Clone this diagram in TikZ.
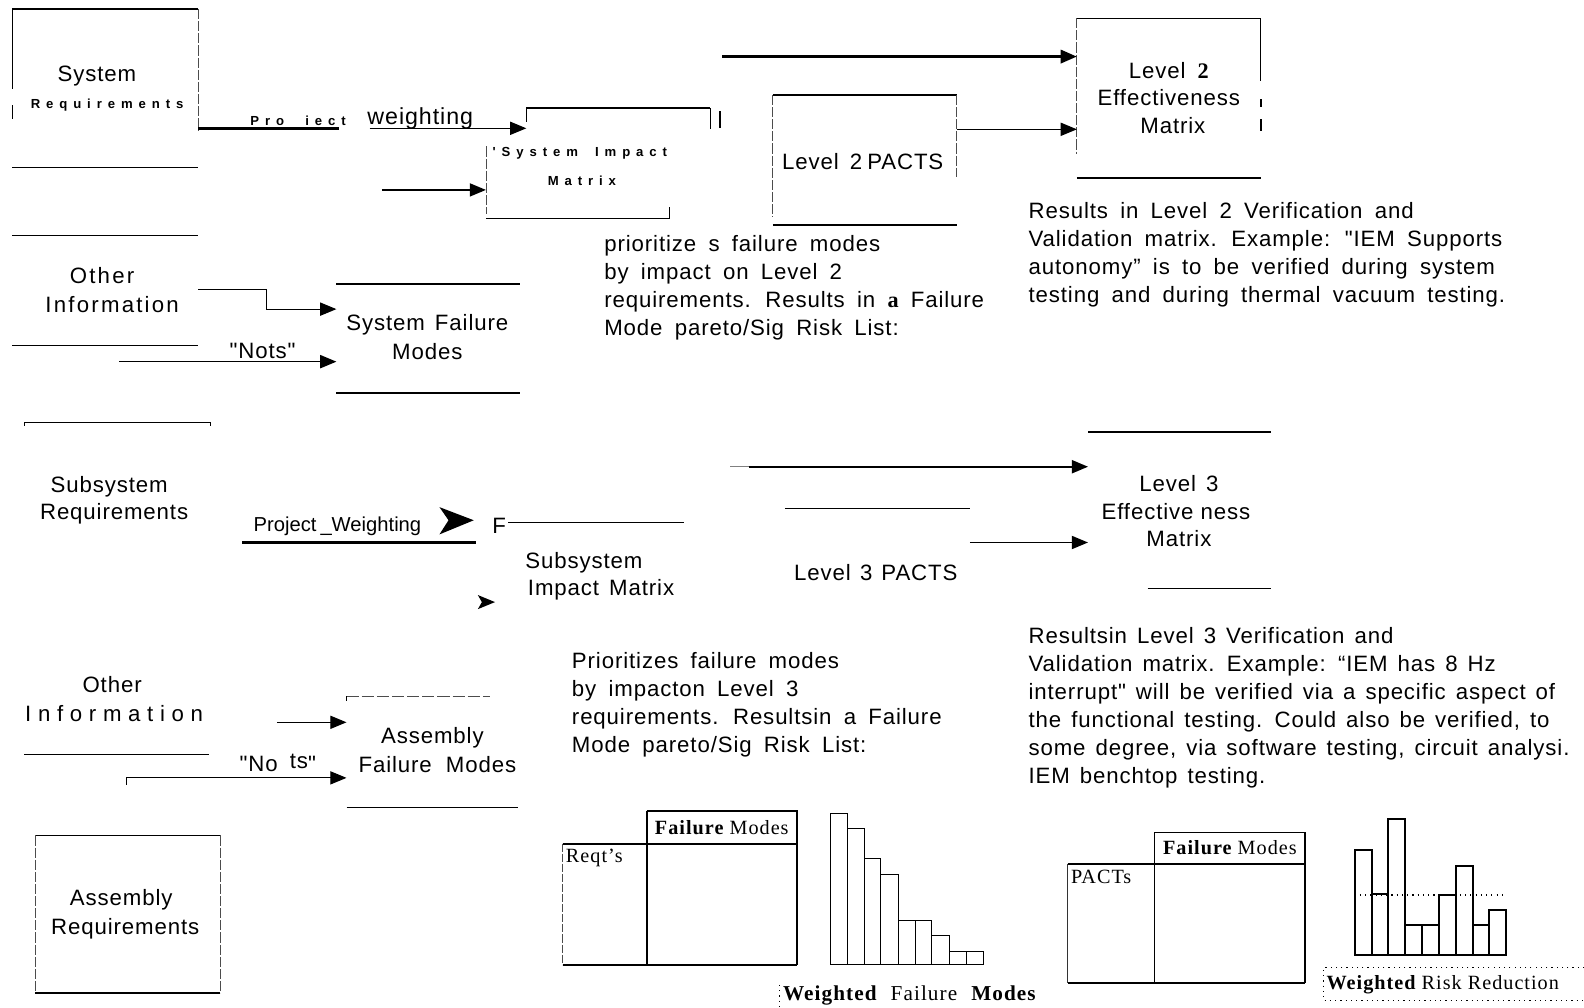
\documentclass[tikz,border=0pt]{standalone}
\usepackage{fontspec}
\setmainfont{Liberation Sans}[LetterSpace=4, Ligatures=TeXOff]
\newfontfamily\serifrm{Liberation Serif}[LetterSpace=5, Ligatures=TeXOff]
\newfontfamily\plainsf{Liberation Sans}[Ligatures=TeXOff]
\newfontfamily\spb{Liberation Sans}[LetterSpace=45, Ligatures=TeXOff]
\newfontfamily\spc{Liberation Sans}[LetterSpace=10, Ligatures=TeXOff]
\newfontfamily\spd{Liberation Sans}[LetterSpace=30, Ligatures=TeXOff]
\usetikzlibrary{arrows.meta}
\newcommand\lbf{\fontsize{22}{27.6}\selectfont\spaceskip=0.55em\relax}
\newcommand\lbfn{\fontsize{22}{27.6}\selectfont\spaceskip=0.45em\relax}
\newcommand\smb{\spb\bfseries\fontsize{13}{15}\selectfont}
\newcommand\tsf{\serifrm\fontsize{20}{24}\selectfont}
\newcommand\sq{\symbol{34}}
\tikzset{
  lbl/.style={inner sep=0pt, font=\lbf, align=center},
  para/.style={inner sep=0pt, font=\lbf, align=left, anchor=north west},
  box/.style={draw=none, inner sep=0pt, outer sep=0pt},
  side/.style={line width=0.8pt, black!70, dash pattern=on 10pt off 2pt},
  ln/.style={line width=1.2pt},
  lnb/.style={line width=2.4pt},
  arr/.style={line width=1.4pt, -{Triangle[length=16pt,width=13pt]}},
  bar/.style={line width=1pt},
  ser/.style={font=\tsf, inner sep=0pt},
  dots/.style={line width=1pt, dash pattern=on 1.2pt off 4pt},
}
\begin{document}
\begin{tikzpicture}[x=1pt,y=-1pt]
\fill[white] (0,0) rectangle (1568,997);
\path[use as bounding box] (0,0) rectangle (1568,997);

% ---- System Requirements
\node[box, minimum width=184pt, minimum height=157pt] (sr) at (104,87.5) {};
\node[lbl] (srA) at (96,75) {System};
\node[lbl, font=\smb] (srB) at (106,104) {Requirements};
\draw[lnb] (sr.north west) -- (sr.north east);
\draw[ln] (sr.north west) -- (sr.west |- 0,88);
\draw[ln] (sr.west |- 0,104) -- (sr.west |- 0,118);
\draw[side] (sr.north east) -- (sr.east |- 0,130);
\draw[ln] (sr.south west) -- (sr.south east);

% ---- Other Information (upper)
\node[box, minimum width=184pt, minimum height=109pt] (oi) at (104,287.5) {};
\node[lbl, font=\spc\lbf] (oiA) at (101,273) {Other};
\node[lbl, font=\spc\lbf] (oiB) at (111,301) {Information};
\draw[ln] (oi.north west) -- (oi.north east);
\draw[ln] (oi.south west) -- (oi.south east);

% ---- System Impact Matrix
\node[box, minimum width=222pt, minimum height=109pt] (sim) at (592,161.5) {};
\node[lbl, font=\smb] (simA) at (574,152) {'System\hspace{17pt}Impact};
\node[lbl, font=\smb] (simB) at (576,179) {Matrix};
\coordinate (simin) at (521,127);
\draw[ln] (sim.north -| simin) -- (sim.north east);
\draw[ln] (sim.north -| simin) -- (521,121);
\draw[ln] (sim.north east) -- (sim.east |- 0,128);
\draw[side] (sim.west |- 0,145) -- (sim.west |- 0,212);
\draw[ln] (sim.south west) -- (sim.south -| 663,0);
\draw[line width=0.8pt] (663,205) -- (663,216);
\draw[line width=2pt] (713,110) -- (713,127);

% Project weighting connector
\coordinate (pw1) at (336,127);
\coordinate (pw2) at (366,127);
\draw[lnb] (sr.east |- pw1) -- (pw1);
\draw[arr, line width=1.2pt] (pw2) -- (simin);
\node[lbl, font=\smb] (pwA) at (295,120) {Pro\hspace{21pt}iect};
\node[lbl, font=\fontsize{23}{25}\selectfont] (pwB) at (416,117) {weighting};
\coordinate (simfeed) at (378,188);
\draw[arr] (simfeed) -- (sim.west |- simfeed);

% ---- Level 2 PACTS
\node[box, minimum width=182pt, minimum height=129pt] (p2) at (856,158.5) {};
\node[lbl] (p2A) at (854,160) {Level\hspace{11pt}2\hspace{5pt}PACTS};
\draw[ln] (p2.north west) -- (p2.north east);
\draw[side] (p2.north west) -- (p2.west |- 0,215);
\draw[side] (p2.north east) -- (p2.east |- 0,175);
\draw[lnb] (p2.south west) -- (p2.south east);

% ---- Level 2 Effectiveness Matrix
\node[box, minimum width=182pt, minimum height=158pt] (e2) at (1157,97) {};
\node[lbl] (e2A) at (1157,70) {Level\hspace{12pt}{\serifrm\bfseries 2}};
\node[lbl] (e2B) at (1157,97) {Effectiveness};
\node[lbl] (e2C) at (1161,124) {Matrix};
\draw[ln] (e2.north west) -- (e2.north east);
\draw[side] (e2.north west) -- (e2.west |- 0,152);
\draw[ln] (e2.north east) -- (e2.east |- 0,80);
\draw[lnb] (e2.east |- 0,98) -- (e2.east |- 0,106);
\draw[lnb] (e2.east |- 0,118) -- (e2.east |- 0,130);
\draw[lnb] (e2.south west) -- (e2.south east);
\coordinate (l2top) at (715,56);
\draw[arr, line width=3pt] (l2top) -- (e2.west |- l2top);
\draw[arr, line width=1.2pt] (p2.east |- 0,128) -- (e2.west |- 0,128);

% ---- paragraphs (level 2)
\node[para] (txL2) at (1018,200) {Results in Level 2 Verification and\\Validation matrix. Example: \sq IEM Supports\\autonomy” is to be verified during system\\testing and during thermal vacuum testing.};
\node[para] (txP2) at (598,233) {prioritize s failure modes\\by impact on Level 2\\requirements. Results in {\serifrm\bfseries a} Failure\\Mode pareto/Sig Risk List:};

% ---- System Failure Modes
\node[box, minimum width=182pt, minimum height=108pt] (sfm) at (424,335) {};
\node[lbl] (sfmA) at (423,321) {System\hspace{10pt}Failure};
\node[lbl] (sfmB) at (423,348) {Modes};
\draw[line width=1.8pt] (sfm.north west) -- (sfm.north east);
\draw[ln] (sfm.south west) -- (sfm.south east);
\coordinate (oiK) at (264,287);
\draw[line width=1pt, -{Triangle[length=16pt,width=13pt]}] (oi.east |- oiK) -- (oiK) -- (oiK |- 0,306) -- (sfm.west |- 0,306);
\coordinate (notsA) at (118,358);
\draw[arr] (notsA) -- (sfm.west |- notsA);
\node[lbl] (notsL) at (260,347) {\sq Nots\sq};

% ---- Subsystem Requirements
\node[box, minimum width=184pt, minimum height=100pt] (ssr) at (116,468) {};
\node[lbl] (ssrA) at (108,482) {Subsystem};
\node[lbl] (ssrB) at (113,509) {Requirements};
\draw[ln] (ssr.north west) -- (ssr.north east);
\draw[line width=0.8pt] (ssr.north west) -- (ssr.west |- 0,422);
\draw[line width=0.8pt] (ssr.north east) -- (ssr.east |- 0,422);

% ---- Project_Weighting
\node[lbl, font=\plainsf\fontsize{20}{24}\selectfont] (pw3) at (334,521) {Project\hspace{4pt}\_Weighting};
\coordinate (pwu1) at (240,537);
\coordinate (pwu2) at (471,537);
\draw[lnb] (pwu1) -- (pwu2);
\fill (435,502) -- (469,515) -- (435,529) -- (444,515) -- cycle;
\node[lbl] (Fl) at (494,521) {F};

% ---- Subsystem Impact Matrix
\node[box, minimum width=196pt, minimum height=100pt] (ssim) at (579,567) {};
\draw[line width=1pt] (ssim.north -| 503,0) -- (ssim.north east);
\node[lbl] (ssimA) at (578,557) {Subsystem};
\node[lbl] (ssimB) at (595,584) {Impact\hspace{10pt}Matrix};
\fill (473,589) -- (490,596) -- (473,603) -- (477,596) -- cycle;

% ---- Level 3 PACTS
\node[box, minimum width=183pt, minimum height=94pt] (p3) at (868.5,550) {};
\draw[ln] (p3.north west) -- (p3.north east);
\node[lbl] (p3A) at (867,567) {Level\hspace{9pt}3\hspace{9pt}PACTS};

% ---- Level 3 Effectiveness Matrix
\node[box, minimum width=181pt, minimum height=155pt] (e3) at (1167.5,505.5) {};
\draw[line width=1.8pt] (e3.north west) -- (e3.north east);
\draw[line width=1pt] (e3.south -| 1136,0) -- (e3.south east);
\node[lbl] (e3A) at (1167,479) {Level\hspace{10pt}3};
\node[lbl] (e3B) at (1164,506) {Effective\hspace{7pt}ness};
\node[lbl] (e3C) at (1167,533) {Matrix};
\coordinate (l3top) at (723,462);
\coordinate (l3b) at (741,462);
\draw[line width=1pt, black!50] (l3top) -- (l3b);
\draw[arr, line width=1.8pt] (l3b) -- (e3.west |- l3top);
\draw[arr] (p3.east |- 0,537) -- (e3.west |- 0,537);

% ---- paragraphs (level 3)
\node[para, font=\lbfn] (txL3) at (1018,621) {Resultsin Level 3 Verification and\\Validation matrix. Example: “IEM has 8 Hz\\interrupt\sq{} will be verified via a specific aspect of\\the functional testing. Could also be verified, to\\some degree, via software testing, circuit analysi.\\IEM benchtop testing.};
\node[para] (txP3) at (566,646) {Prioritizes failure modes\\by impacton Level 3\\requirements. Resultsin a Failure\\Mode pareto/Sig Risk List:};

% ---- Other Information (lower)
\node[box, minimum width=183pt, minimum height=94pt] (oi2) at (115.5,700) {};
\node[lbl] (oi2A) at (111,678) {Other};
\node[lbl, font=\spd\lbf] (oi2B) at (113,706) {Information};
\draw[ln] (oi2.south west) -- (oi2.south east);

% ---- Assembly Failure Modes
\node[box, minimum width=170pt, minimum height=110pt] (afm) at (428,744) {};
\draw[side, dash pattern=on 12pt off 3pt] (afm.north west) -- (afm.north -| 485,0);
\draw[line width=0.8pt] (afm.north west) -- (afm.west |- 0,694);
\draw[ln] (afm.south west) -- (afm.south east);
\node[lbl] (afmA) at (428,730) {Assembly};
\node[lbl] (afmB) at (433,757) {Failure\hspace{14pt}Modes};
\coordinate (oi2o) at (274,715);
\draw[arr, line width=1.2pt] (oi2o) -- (afm.west |- oi2o);
\coordinate (nots2) at (125,770);
\draw[line width=0.8pt] (nots2) -- (125,777);
\draw[arr, line width=1pt] (nots2) -- (afm.west |- nots2);
\node[lbl] (nots2L) at (275,755) {\sq No\hspace{12pt}\raisebox{3pt}{ts}\sq};

% ---- Assembly Requirements
\node[box, minimum width=183pt, minimum height=156pt] (ar) at (126.5,905) {};
\draw[line width=1pt] (ar.north west) -- (ar.north east);
\draw[side] (ar.north west) -- (ar.south west);
\draw[side] (ar.north east) -- (ar.south east);
\draw[lnb] (ar.south west) -- (ar.south east);
\node[lbl] (arA) at (120,891) {Assembly};
\node[lbl] (arB) at (124,919) {Requirements};

% ---- Table 1
\node[box, minimum width=149pt, minimum height=32pt] (t1h) at (714.5,819) {};
\node[box, minimum width=232pt, minimum height=120pt] (t1m) at (673,895) {};
\draw[line width=1.6pt] (t1h.north west) -- (t1h.north east) -- (t1h.south east);
\draw[line width=2pt] (t1h.north west) -- (t1m.south -| t1h.west);
\draw[line width=2pt] (t1m.north west) -- (t1m.north east);
\draw[line width=1.6pt] (t1m.north east) -- (t1m.south east);
\draw[line width=2pt] (t1m.south west) -- (t1m.south east);
\draw[line width=0.8pt, black!70, dash pattern=on 8pt off 2pt] (t1m.north west) -- (t1m.south west);
\node[ser] (t1ht) at (t1h) {{\bfseries Failure} Modes};
\node[ser, anchor=west] (t1r) at (560,849) {Reqt’s};

% ---- Bars 1
\foreach \xa/\xb/\yt in {822/838.5/805, 838.5/855.5/820, 855.5/872/850, 872/889.5/866, 889.5/906/911, 906/922.5/911, 922.5/940/926, 940/957/942, 957/973.5/942}
  \draw[bar] (\xa,955) rectangle (\xb,\yt);
\node[ser, font=\serifrm\fontsize{21}{24}\selectfont, anchor=west] (wfm) at (775,985) {{\bfseries Weighted}\hspace{14pt}Failure\hspace{14pt}{\bfseries Modes}};
\draw[dots] (772,975) -- (772,997);

% ---- Table 2
\node[box, minimum width=149pt, minimum height=31pt] (t2h) at (1217.5,839.5) {};
\node[box, minimum width=235pt, minimum height=118pt] (t2m) at (1174.5,914) {};
\draw[line width=1.6pt] (t2h.south west) -- (t2h.north west) -- (t2h.north east) -- (t2h.south east);
\draw[line width=1.8pt] (t2m.north west) -- (t2m.north east);
\draw[line width=1.6pt] (t2m.north east) -- (t2m.south east);
\draw[lnb] (t2m.south west) -- (t2m.south east);
\draw[line width=0.9pt, black!80] (t2m.north west) -- (t2m.south west);
\draw[line width=0.9pt] (t2h.south west) -- (t2m.south -| t2h.west);
\node[ser] (t2ht) at (t2h) {{\bfseries Failure} Modes};
\node[ser, anchor=west] (t2r) at (1060,868) {PACTs};

% ---- Bars 2
\foreach \xa/\xb/\yt in {1341/1357.7/841, 1357.7/1374.3/885, 1374.3/1391/811, 1391/1407.7/916, 1407.7/1424.3/916, 1424.3/1441/886, 1441/1457.7/857, 1457.7/1474.3/916, 1474.3/1491/901}
  \draw[line width=2pt] (\xa,945) rectangle (\xb,\yt);
\draw[dots, line width=1.3pt] (1341,886) -- (1491,886);
\draw[dots] (1568,958) -- (1310,958) -- (1310,990) -- (1568,990);
\node[ser, anchor=west] (wrr) at (1313,975) {{\bfseries Weighted} Risk Reduction};
\end{tikzpicture}
\end{document}
